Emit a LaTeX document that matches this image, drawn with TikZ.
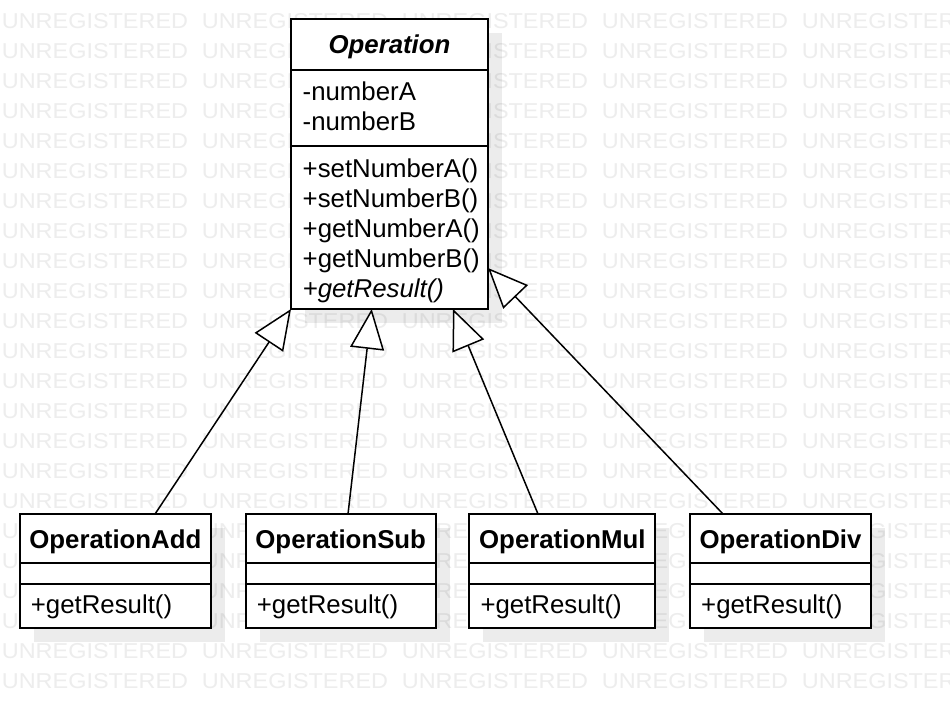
\documentclass[tikz,border=0pt]{standalone}
\usepackage{fontspec}
\setmainfont{Liberation Sans}
\usetikzlibrary{arrows.meta}
\pgfdeclarelayer{bglayer}
\pgfdeclarelayer{wmlayer}
\pgfdeclarelayer{shadowlayer}
\pgfsetlayers{bglayer,wmlayer,shadowlayer,main}
\begin{document}
\begin{tikzpicture}[x=1pt,y=-1pt,
  umlbox/.style={draw=black, fill=white, line width=2pt, inner sep=0pt, outer sep=0pt},
  classname/.style={font=\fontsize{25.8}{30}\selectfont\bfseries, anchor=base, inner sep=0pt},
  member/.style={font=\fontsize{25.8}{30}\selectfont, anchor=base west, inner sep=0pt},
  sepline/.style={line width=2pt},
  gen/.style={line width=1.5pt, -{Triangle[open, fill=white, length=40pt, width=34pt]}},
  shadowfill/.style={fill=black, fill opacity=0.075},
  wm/.style={font=\fontsize{21.5}{21.5}\selectfont, text=black!7, anchor=base west, inner sep=0pt}
]
\useasboundingbox (0,0) rectangle (950,708);
\begin{pgfonlayer}{bglayer}
\fill[white] (0,0) rectangle (950,708);
\end{pgfonlayer}

% watermark
\begin{pgfonlayer}{wmlayer}
\begin{scope}
\clip (0,0) rectangle (950,708);
\foreach \r in {0,...,22} {
  \foreach \c in {0,...,4} {
    \node[wm] (wm-\r-\c) at ({1.7+200*\c},{28.3+30*\r}) {\scalebox{1.09}[1]{UNREGISTERED}};
  }
}
\end{scope}
\end{pgfonlayer}

% Operation
\node[umlbox, minimum width=197pt, minimum height=289.7pt] (op) at (389.5,164.15) {};
\draw[sepline] (op.west |- 0,70) -- (op.east |- 0,70);
\draw[sepline] (op.west |- 0,146) -- (op.east |- 0,146);
\node[classname, font=\fontsize{25.8}{30}\selectfont\bfseries\itshape] (opname) at (389.5,53.3) {Operation};
\node[member] (opa1) at (302.5,100.5) {-numberA};
\node[member] (opa2) at (302.5,130.3) {-numberB};
\node[member] (opm1) at (302.5,178) {+setNumberA()};
\node[member] (opm2) at (302.5,208) {+setNumberB()};
\node[member] (opm3) at (302.5,238) {+getNumberA()};
\node[member] (opm4) at (302.5,268) {+getNumberB()};
\node[member, font=\fontsize{25.8}{30}\selectfont\itshape] (opm5) at (302.5,298) {+getResult()};

% subclasses
\foreach \n/\cx/\w/\t in {add/115.35/191.3/OperationAdd, sub/340.7/190/OperationSub, mul/562.3/186/OperationMul, div/780.5/181/OperationDiv} {
  \node[umlbox, minimum width=\w pt, minimum height=113.7pt] (\n) at (\cx,570.85) {};
  \draw[sepline] (\n.west |- 0,563.3) -- (\n.east |- 0,563.3);
  \draw[sepline] (\n.west |- 0,584) -- (\n.east |- 0,584);
  \node[classname] (\n-name) at (\cx,548.3) {\t};
  \node[member] (\n-m) at ([xshift=11pt]\n.west |- 0,613.3) {+getResult()};
}

% shadows
\begin{pgfonlayer}{shadowlayer}
\foreach \n in {op,add,sub,mul,div} {
  \fill[shadowfill] ([xshift=14pt,yshift=-14pt]\n.north west) rectangle ([xshift=14pt,yshift=-14pt]\n.south east);
}
\end{pgfonlayer}

% generalizations
\draw[gen] ([xshift=39.7pt]add.north) -- (op.south west);
\draw[gen] ([xshift=7.3pt]sub.north) -- ([xshift=-17.8pt]op.south);
\draw[gen] ([xshift=-24.3pt]mul.north) -- ([xshift=63.5pt]op.south);
\draw[gen] ([xshift=-57.5pt]div.north) -- ([yshift=41pt]op.south east);
\end{tikzpicture}
\end{document}
